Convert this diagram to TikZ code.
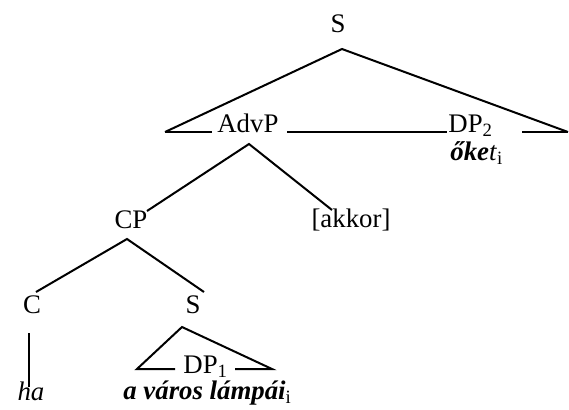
\documentclass[tikz,border=0pt]{standalone}
\usepackage{fontspec}
\setmainfont{Liberation Serif}
\begin{document}
\begin{tikzpicture}[x=0.5pt,y=-0.5pt,
  lbl/.style={inner sep=0pt,font=\fontsize{13.4}{16}\selectfont},
  br/.style={line width=1pt}]
\useasboundingbox (0,0) rectangle (569,409);
% labels
\node[lbl,anchor=base] (S) at (338,32) {S};
\node[lbl,anchor=base west] (advp) at (217,132) {AdvP};
\node[lbl,anchor=base west] (dp2) at (448,132) {DP\textsubscript{2}};
\node[lbl,anchor=base west] (oket) at (450,160) {\textbf{\textit{őke}}\textit{t}\textsubscript{i}};
\node[lbl,anchor=base] (cp) at (131,228) {CP};
\node[lbl,anchor=base] (akkor) at (351,227) {[akkor]};
\node[lbl,anchor=base] (C) at (32,313) {C};
\node[lbl,anchor=base] (S2) at (193,313) {S};
\node[lbl,anchor=base west] (dp1) at (183,373) {DP\textsubscript{1}};
\node[lbl,anchor=base] (ha) at (31,400) {\textit{ha}};
\node[lbl,anchor=base west] (lamp) at (123,399) {\textbf{\textit{a város lámpái}}\textsubscript{i}};
% coordinates
\coordinate (sA) at (342,49);
\coordinate (sL) at (165,132);
\coordinate (sR) at (568,132);
\coordinate (h1) at (212,132);
\coordinate (h2) at (287,132);
\coordinate (h3) at (447,132);
\coordinate (h4) at (522,132);
\coordinate (aA) at (249,144);
\coordinate (aL) at (147,211);
\coordinate (aR) at (332,210);
\coordinate (cA) at (127,239);
\coordinate (cL) at (36,292);
\coordinate (cR) at (204,292);
\coordinate (vT) at (29,333);
\coordinate (vB) at (29,387);
\coordinate (tA) at (182,327);
\coordinate (tL) at (137,369);
\coordinate (tR) at (272,369);
\coordinate (t1) at (175,369);
\coordinate (t2) at (235,369);
% branches
\draw[br] (sL) -- (sA) -- (sR);
\draw[br] (sL) -- (h1);
\draw[br] (h2) -- (h3);
\draw[br] (h4) -- (sR);
\draw[br] (aL) -- (aA) -- (aR);
\draw[br] (cL) -- (cA) -- (cR);
\draw[br] (vT) -- (vB);
\draw[br] (t1) -- (tL) -- (tA) -- (tR) -- (t2);
\end{tikzpicture}
\end{document}
